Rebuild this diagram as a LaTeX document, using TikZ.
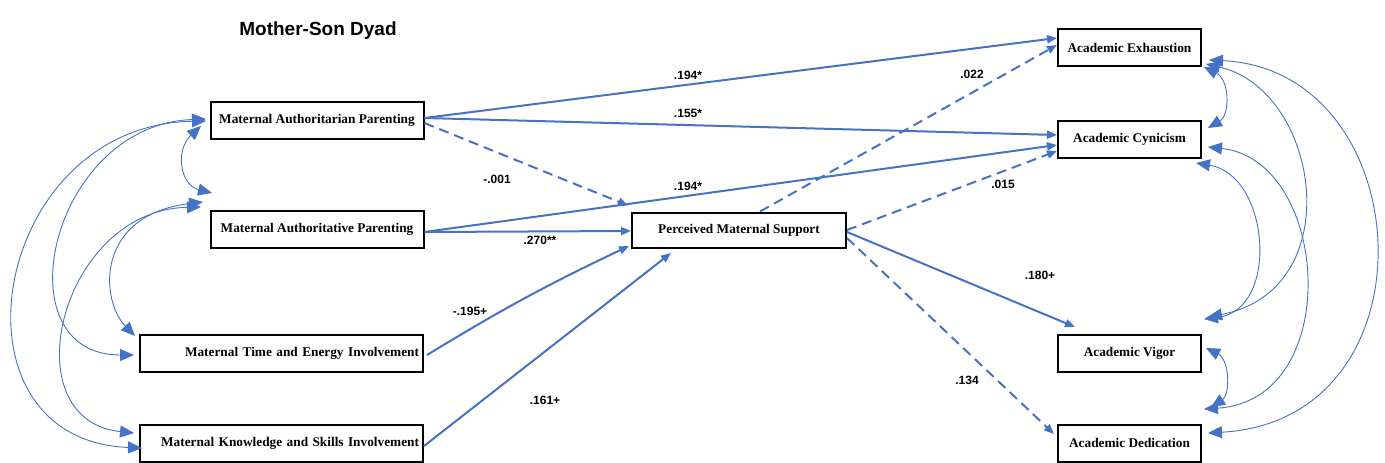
\documentclass[tikz,border=0pt]{standalone}
\usepackage{fontspec}
\setmainfont{Liberation Serif}
\setsansfont{Liberation Sans}
\usetikzlibrary{arrows.meta}
\definecolor{pathblue}{RGB}{68,114,196}

\begin{document}
\begin{tikzpicture}[x=1pt,y=-1pt,
    box/.style={draw,line width=2pt,minimum height=37pt,inner sep=4pt,font=\bfseries\fontsize{13.3}{15}\selectfont},
    effect/.style={pathblue,line width=2pt,-{Triangle[length=10pt,width=8pt]}},
    nonsig/.style={dash pattern=on 10pt off 6pt},
    cov/.style={pathblue,line width=0.9pt,{Triangle[length=14pt,width=12pt]}-{Triangle[length=14pt,width=12pt]}},
    coef/.style={font=\sffamily\bfseries\fontsize{12}{14}\selectfont}]
  \useasboundingbox (0,0) rectangle (1385,463);

  \node [font=\sffamily\bfseries\fontsize{19}{21}\selectfont] (title) at (318,31) {Mother-Son Dyad};

  % mother variables
  \node [box,minimum width=213pt] (ma) at (317,120) {Maternal Authoritarian Parenting};
  \node [box,minimum width=213pt] (mt) at (317,229) {Maternal Authoritative Parenting};
  \node [box,text width=275pt,align=right] (mte) at (281.5,353) {Maternal Time and Energy Involvement};
  \node [box,text width=275pt,align=right] (mks) at (281.5,443) {Maternal Knowledge and Skills Involvement};

  % mediator
  \node [box,minimum width=214pt,minimum height=35pt] (pms) at (739,230) {Perceived Maternal Support};

  % outcomes
  \node [box,minimum width=143pt] (ae) at (1129.5,47.5) {Academic Exhaustion};
  \node [box,minimum width=143pt] (ac) at (1129.5,139) {Academic Cynicism};
  \node [box,minimum width=143pt] (av) at (1129.5,353.5) {Academic Vigor};
  \node [box,minimum width=143pt] (ad) at (1129.5,443) {Academic Dedication};

  % paths
  \draw [effect] ([yshift=2pt]ma.east) -- ([yshift=9.5pt]ae.west);
  \draw [effect] ([yshift=2pt]ma.east) -- ([yshift=4pt]ac.west);
  \draw [effect,nonsig] ([yshift=-3pt]ma.east) -- ([xshift=-3pt,yshift=6pt]pms.north west);
  \draw [effect] ([yshift=-3pt]mt.east) -- ([yshift=-6pt]ac.west);
  \draw [effect] ([yshift=-3pt]mt.east) -- ([yshift=-1pt]pms.west);
  \draw [effect] ([xshift=3pt,yshift=-2pt]mte.east) to[bend left=3] ([xshift=-2pt,yshift=-16pt]pms.west);
  \draw [effect] ([yshift=-3pt]mks.east) -- ([xshift=40pt,yshift=-4.5pt]pms.south west);
  \draw [effect,nonsig] ([xshift=21pt]pms.north) -- ([yshift=2.5pt]ae.west);
  \draw [effect,nonsig] (pms.east) -- ([yshift=-12pt]ac.west);
  \draw [effect] ([yshift=-2pt]pms.east) -- ([xshift=18pt,yshift=7pt]av.north west);
  \draw [effect,nonsig] ([yshift=-8pt]pms.east) -- ([xshift=-3pt,yshift=9pt]ad.west);

  \node [coef] (c1) at (688,75) {.194*};
  \node [coef] (c2) at (688,113) {.155*};
  \node [coef] (c3) at (497,179) {-.001};
  \node [coef] (c4) at (688,186) {.194*};
  \node [coef] (c5) at (540,240) {.270**};
  \node [coef] (c6) at (470,311) {-.195+};
  \node [coef] (c7) at (545,400) {.161+};
  \node [coef] (c8) at (972,74) {.022};
  \node [coef] (c9) at (1003,184) {.015};
  \node [coef] (c10) at (1040,275) {.180+};
  \node [coef] (c11) at (967,380) {.134};

  % covariances, left
  \draw [cov] ([xshift=-3.5pt,yshift=-1pt]ma.west) .. controls (-10,125) and (-60,440) .. ([xshift=3pt,yshift=-5pt]mks.west);
  \draw [cov] ([xshift=-3.5pt,yshift=1pt]ma.west) .. controls (50,125) and (0,355) .. ([xshift=-5pt,yshift=-2pt]mte.west);
  \draw [cov] ([xshift=-8.5pt,yshift=-6pt]ma.west) .. controls (175,150) and (180,185) .. ([xshift=2.5pt,yshift=16.5pt]mt.north west);
  \draw [cov] ([xshift=-6.5pt,yshift=7.5pt]mt.north west) .. controls (95,215) and (100,300) .. ([xshift=-4pt,yshift=-2.5pt]mte.north west);
  \draw [cov] ([xshift=-8.5pt,yshift=2.5pt]mt.north west) .. controls (60,210) and (10,420) .. ([xshift=-5pt,yshift=10pt]mks.west);

  % covariances, right
  \draw [cov] ([xshift=2pt]ae.south east) .. controls (1230,80) and (1230,115) .. ([xshift=6pt,yshift=-8.5pt]ac.north east);
  \draw [cov] ([xshift=4pt,yshift=3pt]ae.south east) .. controls (1320,90) and (1350,290) .. ([xshift=6pt,yshift=17pt]av.north east);
  \draw [cov] ([xshift=7pt,yshift=7pt]ae.south east) .. controls (1420,70) and (1440,420) .. ([xshift=6pt,yshift=10pt]ad.east);
  \draw [cov] ([xshift=-6pt,yshift=-4.5pt]ac.south east) .. controls (1270,175) and (1280,310) .. ([xshift=2pt,yshift=15pt]av.north east);
  \draw [cov] ([xshift=6pt,yshift=-8pt]ac.east) .. controls (1330,160) and (1345,400) .. ([xshift=2pt,yshift=14.5pt]ad.north east);
  \draw [cov] ([xshift=4pt,yshift=5.5pt]av.east) .. controls (1230,360) and (1230,395) .. ([xshift=9pt,yshift=16.5pt]ad.north east);
\end{tikzpicture}
\end{document}
